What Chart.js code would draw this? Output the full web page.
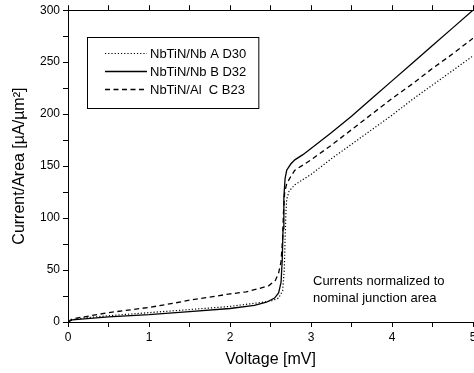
<!DOCTYPE html>
<html><head><meta charset="utf-8">
<script src="https://cdn.jsdelivr.net/npm/chart.js@4.4.0/dist/chart.umd.min.js"></script>
<style>html,body{margin:0;padding:0;background:#fff}#wrap{width:474px;height:373px}</style>
</head><body><div id="wrap"><canvas id="c" width="474" height="373"></canvas></div>
<script>
// Voltage [mV] / current density [uA/um^2]
const seriesLabels = ['NbTiN/Nb A D30', 'NbTiN/Nb B D32', 'NbTiN/Al  C B23'];
const voltA = [0,0.05,0.2,0.5,1.0,1.5,2.0,2.3,2.5,2.6,2.65,2.67,2.68,2.69,2.70,2.73,2.80,2.90,3.0,3.25,3.5,3.75,4.0,4.25,4.5,4.75,5.0];
const curA  = [0,2,4,6,9,12,15,18,20,23,30,50,80,105,118,126,132,137,142,157,171,185,199,214,228,242,256];
const voltB = [0,0.05,0.2,0.5,1.0,1.5,2.0,2.3,2.45,2.55,2.60,2.63,2.645,2.655,2.665,2.68,2.70,2.75,2.80,2.90,3.0,3.25,3.5,3.75,4.0,4.25,4.5,4.75,5.0];
const curB  = [0,2,3,5,7,10,13,16,19,23,28,38,60,90,120,138,146,152,156,161,167,182,198,215,232,249,266,283,300];
const voltC = [0,0.05,0.2,0.5,0.8,1.0,1.3,1.5,1.75,2.0,2.2,2.35,2.48,2.56,2.60,2.63,2.65,2.66,2.675,2.70,2.75,2.80,2.90,3.0,3.25,3.5,3.75,4.0,4.25,4.5,4.75,5.0];
const curC  = [0,3,5,9,12,14,18,21,24,27,29,32,35,40,47,58,80,105,125,133,140,146,151,156,170,185,200,215,229,244,258,273];
const xTickLabels = ['0','1','2','3','4','5'];
const yTickLabels = ['0','50','100','150','200','250','300'];
const xTitle = 'Voltage [mV]';
const yTitle = 'Current/Area [\u00B5A/\u00B5m\u00B2]';
const noteLines = ['Currents normalized to', 'nominal junction area'];

const pts = (xs, ys) => xs.map((x, i) => ({x, y: ys[i]}));
const FONT = 'Arial, "Liberation Sans", sans-serif';

const legendPlugin = {
  id: 'boxLegend',
  afterDatasetsDraw(chart) {
    const ctx = chart.ctx;
    ctx.save();
    ctx.font = '13px ' + FONT;
    const rows = [53, 71, 89];
    let maxW = 0;
    chart.data.datasets.forEach(d => { maxW = Math.max(maxW, ctx.measureText(d.label).width); });
    const left = 87, top = 37, bottom = 108, textX = 150;
    const right = textX + maxW + 12;
    ctx.strokeStyle = '#000'; ctx.lineWidth = 1;
    ctx.strokeRect(left + 0.5, top + 0.5, right - left, bottom - top);
    chart.data.datasets.forEach((d, i) => {
      const y = rows[i];
      ctx.beginPath();
      ctx.setLineDash(d.borderDash || []);
      ctx.lineWidth = d.borderWidth;
      ctx.moveTo(105, y + 0.5); ctx.lineTo(147, y + 0.5);
      ctx.stroke();
      ctx.setLineDash([]);
      ctx.fillStyle = '#000';
      ctx.textBaseline = 'middle';
      ctx.fillText(d.label, textX, y + 1);
    });
    ctx.font = '13px ' + FONT;
    ctx.fillText(noteLines[0], 313, 281);
    ctx.fillText(noteLines[1], 313, 298);
    ctx.restore();
  }
};

const ds = (label, data, dash, w) => ({label, data, borderColor: '#000', backgroundColor: '#000',
  borderWidth: w, borderDash: dash, pointRadius: 0, tension: 0, fill: false});

new Chart(document.getElementById('c'), {
  type: 'line',
  data: { datasets: [
    ds(seriesLabels[0], pts(voltA, curA), [1.2, 2], 1.2),
    ds(seriesLabels[1], pts(voltB, curB), [], 1.3),
    ds(seriesLabels[2], pts(voltC, curC), [5, 3.5], 1.3)
  ]},
  options: {
    responsive: false, animation: false, parsing: true,
    layout: { padding: { left: 0, right: 1, top: 0, bottom: 0 } },
    plugins: { legend: { display: false }, tooltip: { enabled: false } },
    scales: {
      x: {
        type: 'linear', min: 0, max: 5, position: 'bottom',
        grid: { drawOnChartArea: false, tickLength: 5, color: '#000' },
        border: { color: '#000', width: 1 },
        ticks: { stepSize: 0.5, padding: 3, color: '#000', font: { size: 12, family: FONT }, maxRotation: 0,
          autoSkip: false,
          callback: v => (Number.isInteger(v) ? xTickLabels[v] : '') },
        title: { display: true, text: xTitle, color: '#000', font: { size: 16, family: FONT }, padding: { top: 0, bottom: 4 } },
        afterFit(s) { s.height = 51; s.paddingRight = 0; s.paddingLeft = 0; }
      },
      x2: {
        type: 'linear', min: 0, max: 5, position: 'top',
        grid: { drawOnChartArea: false, tickLength: 5, color: '#000' },
        border: { color: '#000', width: 1 },
        ticks: { stepSize: 0.5, display: false },
        afterFit(s) { s.height = 10; s.paddingRight = 0; s.paddingLeft = 0; }
      },
      y: {
        type: 'linear', min: 0, max: 300,
        grid: { drawOnChartArea: false, tickLength: 5, color: '#000' },
        border: { color: '#000', width: 1 },
        ticks: { stepSize: 25, padding: 3, color: '#000', font: { size: 12, family: FONT }, autoSkip: false,
          callback: v => (v % 50 === 0 ? yTickLabels[v / 50] : '') },
        title: { display: true, text: yTitle, color: '#000', font: { size: 16, family: FONT }, padding: { top: 10, bottom: 0 } },
        afterFit(s) { s.width = 68; }
      }
    }
  },
  plugins: [legendPlugin]
});
</script></body></html>
